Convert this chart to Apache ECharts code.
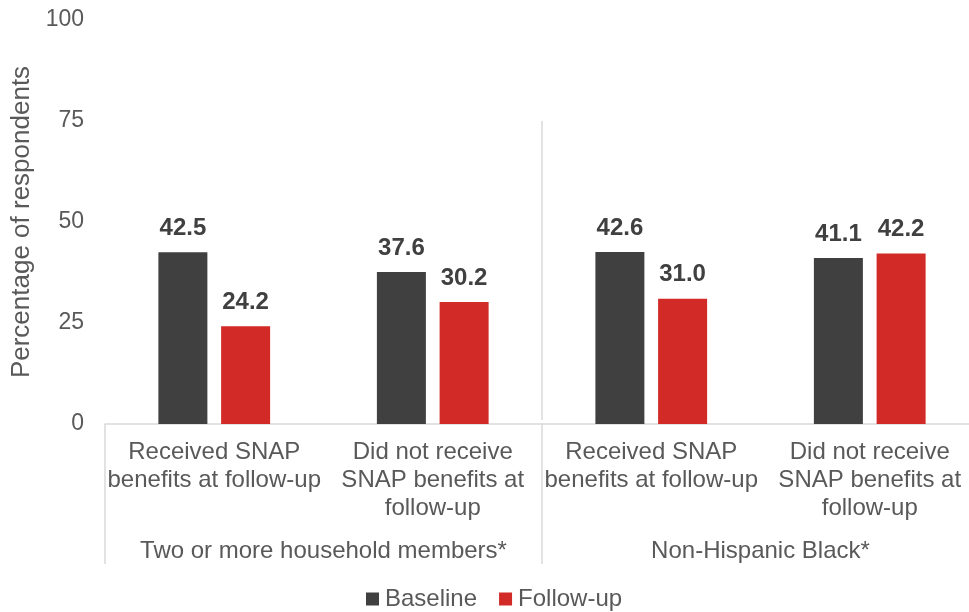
<!DOCTYPE html>
<html>
<head>
<meta charset="utf-8">
<script src="https://cdn.jsdelivr.net/npm/echarts@6/dist/echarts.min.js"></script>
<style>
  html, body { margin: 0; padding: 0; background: #fff; }
  #chart { width: 969px; height: 612px; }
</style>
</head>
<body>
<div id="chart"></div>
<script>
// data
const categories = [
    'Received SNAP\nbenefits at follow-up',
    'Did not receive\nSNAP benefits at\nfollow-up',
    'Received SNAP\nbenefits at follow-up',
    'Did not receive\nSNAP benefits at\nfollow-up'
];
const groups = ['Two or more household members*', 'Non-Hispanic Black*'];
const baseline = [42.5, 37.6, 42.6, 41.1];
const followUp = [24.2, 30.2, 31.0, 42.2];
const yTicks = [0, 25, 50, 75, 100];

const chart = echarts.init(document.getElementById('chart'));

const textColor = '#595959';
const lineColor = '#d9d9d9';
const font = 'Liberation Sans, Arial, sans-serif';

const barLabel = {
    show: true,
    position: 'top',
    distance: 12,
    fontSize: 24,
    fontWeight: 'bold',
    fontFamily: font,
    color: '#404040',
    formatter: p => p.value.toFixed(1)
};

const option = {
    animation: false,
    textStyle: { fontFamily: font },
    grid: { left: 105, top: 20, width: 874, height: 404, outerBoundsMode: 'none', containLabel: false },
    legend: {
        data: ['Baseline', 'Follow-up'],
        top: 587,
        left: 366,
        padding: 0,
        icon: 'rect',
        itemWidth: 13,
        itemHeight: 13,
        itemGap: 22,
        textStyle: { fontSize: 24, color: textColor, fontFamily: font, padding: [0, 0, 0, 1] }
    },
    xAxis: [
        {
            type: 'category',
            data: categories,
            axisLine: { lineStyle: { color: lineColor, width: 1.5 } },
            axisTick: { show: false },
            axisLabel: {
                interval: 0,
                margin: 14,
                fontSize: 24,
                lineHeight: 28,
                color: textColor,
                fontFamily: font
            }
        },
        {
            type: 'category',
            data: groups,
            position: 'bottom',
            axisLine: { show: false },
            axisTick: { show: true, length: 140, interval: 0, lineStyle: { color: lineColor, width: 1.5 } },
            axisLabel: {
                interval: 0,
                margin: 115,
                fontSize: 24,
                color: textColor,
                fontFamily: font
            }
        },
        { type: 'value', min: 0, max: 4, show: false }
    ],
    yAxis: {
        type: 'value',
        min: yTicks[0],
        max: yTicks[yTicks.length - 1],
        interval: 25,
        name: 'Percentage of respondents',
        nameLocation: 'middle',
        nameGap: 70,
        nameTextStyle: { fontSize: 26, color: textColor, fontFamily: font },
        axisLine: { show: false },
        axisTick: { show: false },
        splitLine: { show: false },
        axisLabel: { fontSize: 23, color: textColor, margin: 21, fontFamily: font }
    },
    series: [
        {
            name: 'Baseline',
            type: 'bar',
            data: baseline,
            barWidth: 49,
            barGap: '28%',
            itemStyle: { color: '#404040' },
            label: barLabel
        },
        {
            name: 'Follow-up',
            type: 'bar',
            data: followUp,
            barWidth: 49,
            barGap: '28%',
            itemStyle: { color: '#d12a27' },
            label: barLabel
        },
        {
            // group separator inside the plot
            type: 'line',
            xAxisIndex: 2,
            data: [[2, 0]],
            symbolSize: 0,
            lineStyle: { opacity: 0 },
            silent: true,
            markLine: {
                silent: true,
                symbol: 'none',
                label: { show: false },
                lineStyle: { color: lineColor, type: 'solid', width: 1.5 },
                data: [[{ coord: [2, 75] }, { coord: [2, 1] }]]
            }
        }
    ]
};

chart.setOption(option);
</script>
</body>
</html>
